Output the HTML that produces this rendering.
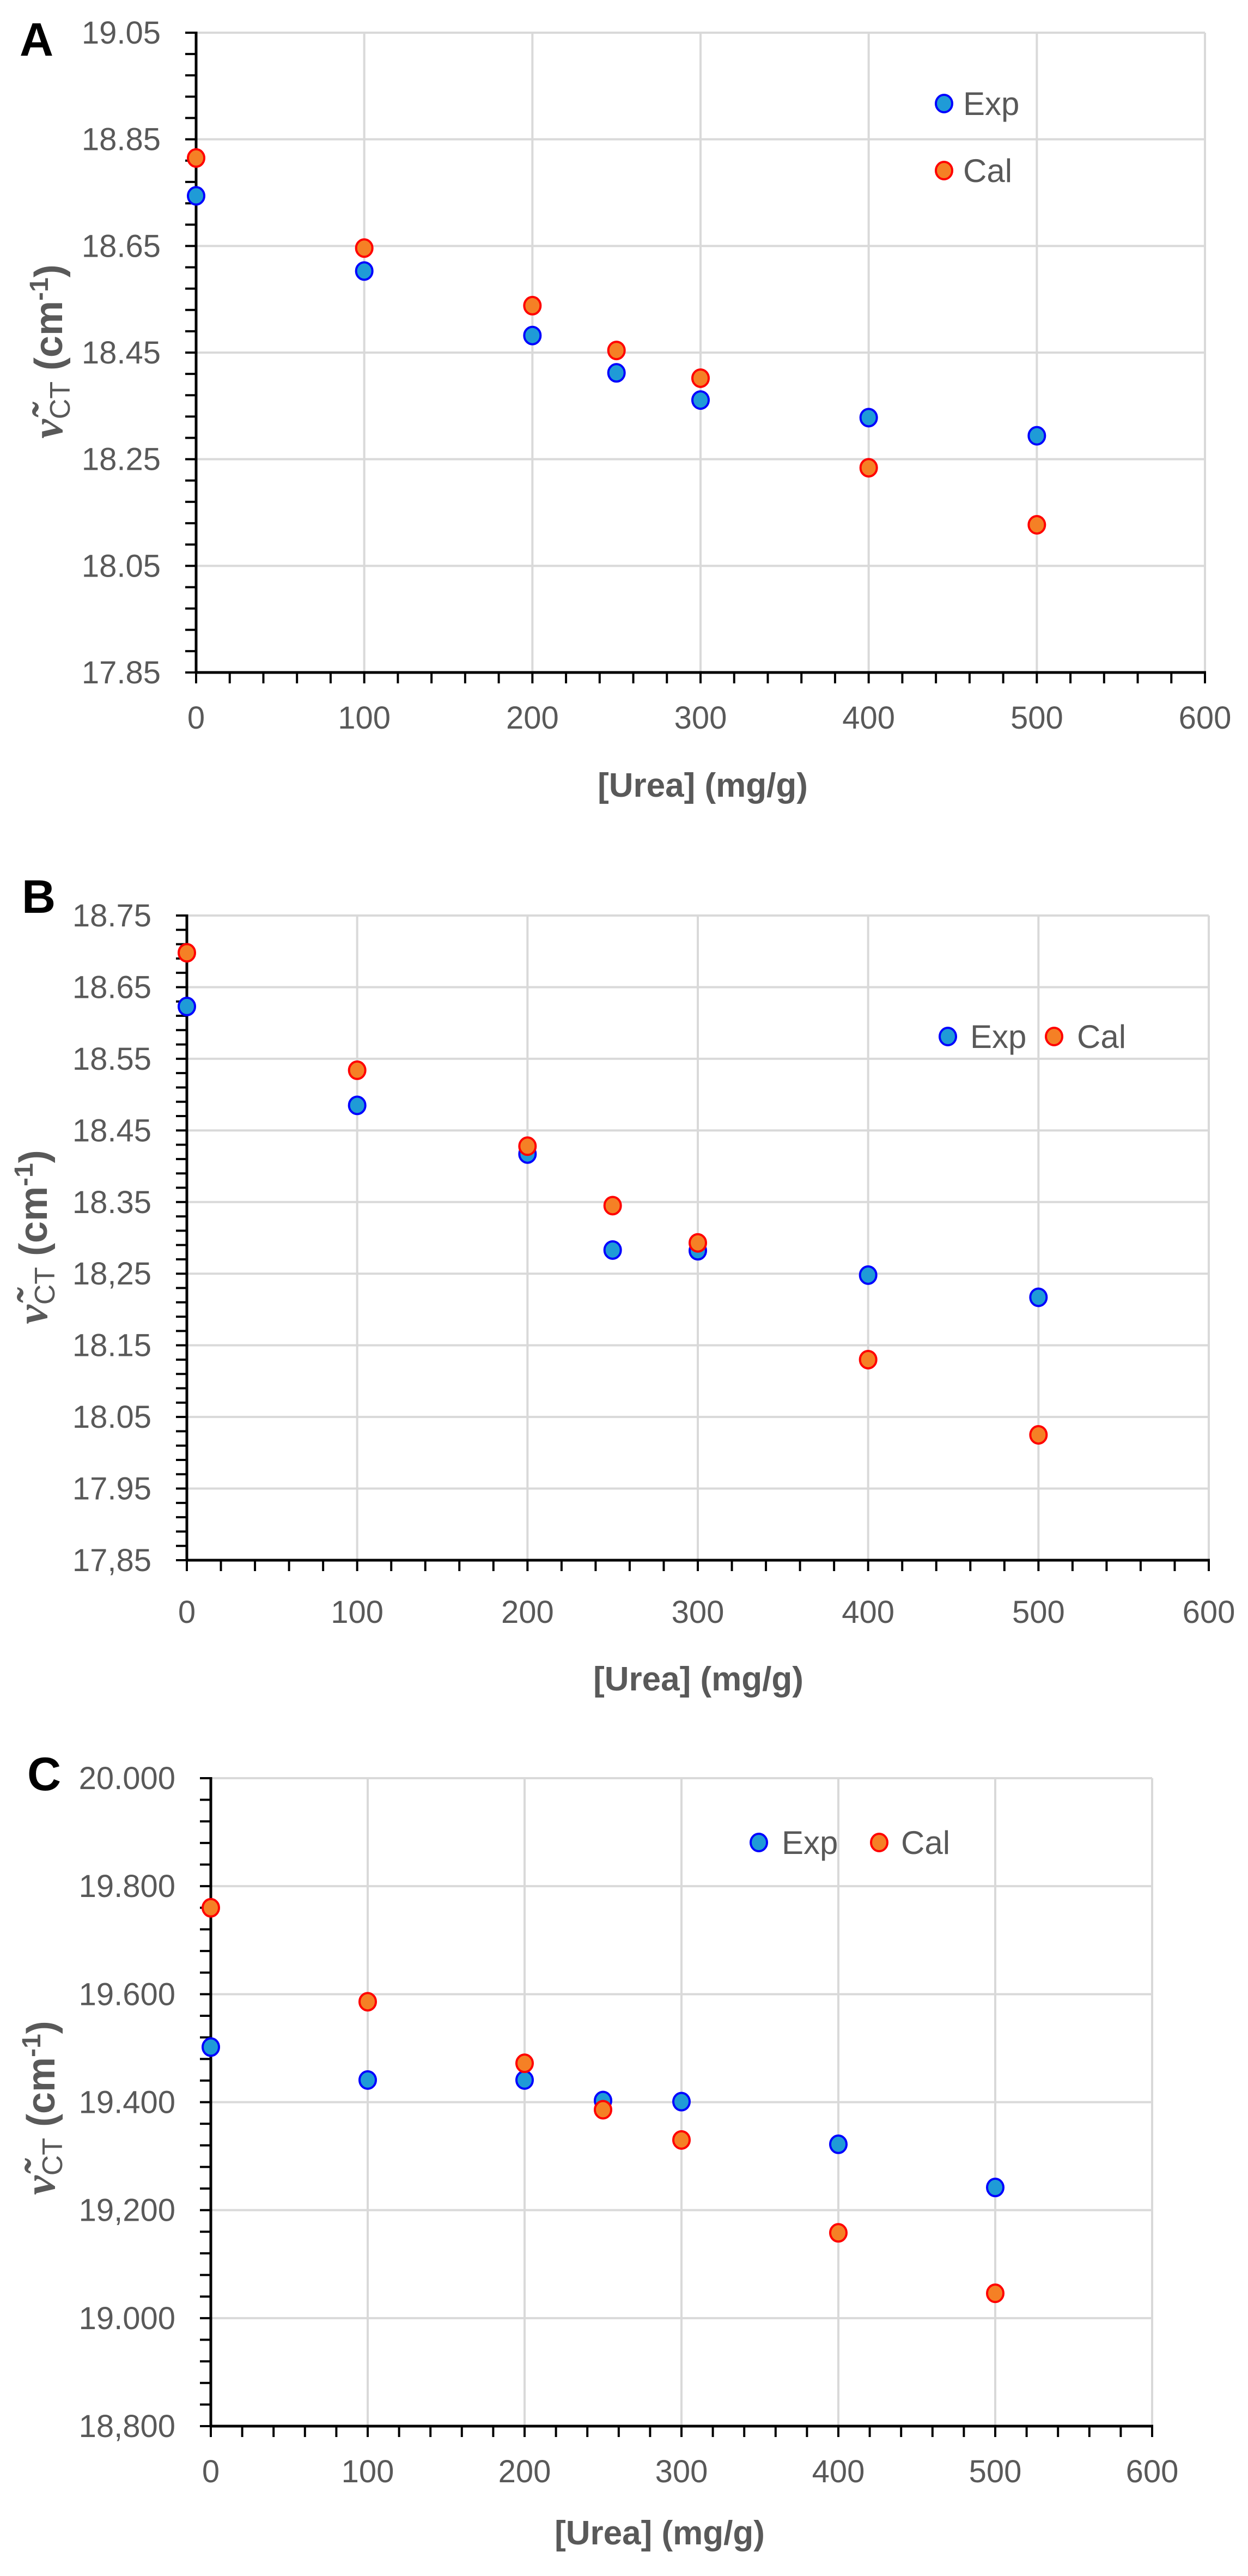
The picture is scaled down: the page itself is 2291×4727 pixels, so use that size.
<!DOCTYPE html>
<html><head><meta charset="utf-8"><style>
html,body{margin:0;padding:0;background:#fff;}
svg{display:block;}
text{font-family:"Liberation Sans",sans-serif;}
</style></head>
<body>
<svg id="fig" width="2291" height="4727" viewBox="0 0 2291 4727" xmlns="http://www.w3.org/2000/svg"></svg>
<script>
// ---- data ----
const xCategories = [0, 100, 200, 250, 300, 400, 500];
const xTickLabels = ["0","100","200","300","400","500","600"];

const expA = [18.744, 18.603, 18.482, 18.412, 18.361, 18.328, 18.294];
const calA = [18.815, 18.646, 18.538, 18.454, 18.402, 18.234, 18.127];
const yTicksA = ["17.85","18.05","18.25","18.45","18.65","18.85","19.05"];

const expB = [18.623, 18.485, 18.417, 18.283, 18.282, 18.248, 18.217];
const calB = [18.698, 18.534, 18.428, 18.345, 18.293, 18.130, 18.025];
const yTicksB = ["17,85","17.95","18.05","18.15","18,25","18.35","18.45","18.55","18.65","18.75"];

const expC = [19.502, 19.441, 19.441, 19.403, 19.401, 19.322, 19.242];
const calC = [19.760, 19.586, 19.472, 19.386, 19.330, 19.158, 19.046];
const yTicksC = ["18,800","19.000","19,200","19.400","19.600","19.800","20.000"];

const svg = document.getElementById('fig');
const NS = "http://www.w3.org/2000/svg";
function mk(tag, attrs, parent) {
  const e = document.createElementNS(NS, tag);
  for (const k in attrs) e.setAttribute(k, attrs[k]);
  (parent || svg).appendChild(e);
  return e;
}

function drawChart(c) {
  const g = mk('g', {});
  
  
  const yMin = parseFloat(c.yTicks[0].replace(',', '.'));
  const yMax = parseFloat(c.yTicks[c.yTicks.length - 1].replace(',', '.'));
  const xs = v => c.left + (v / 600) * (c.right - c.left);
  const ys = v => c.bottom - (v - yMin) / (yMax - yMin) * (c.bottom - c.top);

  c.yTicks.forEach((t, i) => {
    if (i === 0) return;
    const v = parseFloat(t.replace(',', '.'));
    const l = mk('line', {x1: c.left, x2: c.right, y1: ys(v), y2: ys(v), stroke: '#d9d9d9', 'stroke-width': 4}, g);
    
    
  });
  xTickLabels.forEach((t, i) => {
    if (i === 0) return;
    const v = parseFloat(t);
    const l = mk('line', {x1: xs(v), x2: xs(v), y1: c.top, y2: c.bottom, stroke: '#d9d9d9', 'stroke-width': 4}, g);
    
    
  });
  const nMajorY = c.yTicks.length - 1;
  for (let i = 0; i <= nMajorY * 5; i++) {
    const y = c.bottom - i * (c.bottom - c.top) / (nMajorY * 5);
    const l = mk('line', {x1: c.left - 20, x2: c.left, y1: y, y2: y, stroke: '#000', 'stroke-width': 4}, g);
    
    
  }
  for (let i = 0; i <= 30; i++) {
    const x = xs(i * 20);
    const l = mk('line', {x1: x, x2: x, y1: c.bottom, y2: c.bottom + 20, stroke: '#000', 'stroke-width': 4}, g);
    
    
  }
  const ya = mk('line', {x1: c.left, x2: c.left, y1: c.top - 2, y2: c.bottom + 2, stroke: '#000', 'stroke-width': 5}, g);
  
  
  const xa = mk('line', {x1: c.left - 2, x2: c.right + 2, y1: c.bottom, y2: c.bottom, stroke: '#000', 'stroke-width': 5}, g);
  
  

  c.yTicks.forEach(t => {
    const v = parseFloat(t.replace(',', '.'));
    const tx = mk('text', {x: c.left - 65, y: ys(v) + 20, 'text-anchor': 'end', 'font-size': 58, fill: '#595959'}, g);
    tx.textContent = t;
    
    
  });
  xTickLabels.forEach(t => {
    const tx = mk('text', {x: xs(parseFloat(t)), y: c.xLabelY + 20, 'text-anchor': 'middle', 'font-size': 58, fill: '#595959'}, g);
    tx.textContent = t;
    
    
  });
  const xt = mk('text', {x: c.xTitleX, y: c.xTitleY + 22, 'text-anchor': 'middle', 'font-size': 62, 'font-weight': 'bold', fill: '#595959'}, g);
  xt.textContent = '[Urea] (mg/g)';
  
  

  const yt = mk('text', {x: 0, y: 0, 'text-anchor': 'middle', 'font-size': 72, 'font-weight': 'bold', fill: '#595959',
    transform: 'translate(' + (c.yTitleX + 24) + ',' + c.yTitleY + ') rotate(-90)'}, g);
  
  
  const t1 = mk('tspan', {'font-family': '"Liberation Serif",serif', 'font-style': 'italic', 'font-size': 80}, yt); t1.textContent = 'ν̃';
  const t2 = mk('tspan', {'font-size': 52, 'font-weight': 'normal', dy: 14}, yt); t2.textContent = 'CT';
  const t3 = mk('tspan', {dy: -14}, yt); t3.textContent = '  (cm';
  const t4 = mk('tspan', {'font-size': 48, dy: -26}, yt); t4.textContent = '-1';
  const t5 = mk('tspan', {dy: 26}, yt); t5.textContent = ')';

  const pl = mk('text', {x: c.labelX, y: c.labelY + 30, 'text-anchor': 'middle', 'font-size': 86, 'font-weight': 'bold', fill: '#000'}, g);
  pl.textContent = c.id;
  
  

  function series(vals, fill, stroke, name) {
    vals.forEach((v, i) => {
      const p = mk('ellipse', {cx: xs(xCategories[i]), cy: ys(v), rx: 15, ry: 16, fill: fill, stroke: stroke, 'stroke-width': 4}, g);
      
      
    });
  }
  series(c.exp, '#1f9bd7', '#0000ff', 'exp');
  series(c.cal, '#f58025', '#ff0000', 'cal');

  function legend(lx, ly, tx, label, fill, stroke, name) {
    const m = mk('ellipse', {cx: lx, cy: ly, rx: 15, ry: 16, fill: fill, stroke: stroke, 'stroke-width': 4}, g);
    
    
    const t = mk('text', {x: tx, y: ly + 21, 'font-size': 60, fill: '#595959'}, g);
    t.textContent = label;
    
    
  }
  legend(c.legExp[0], c.legExp[1], c.legExp[2], 'Exp', '#1f9bd7', '#0000ff', 'exp');
  legend(c.legCal[0], c.legCal[1], c.legCal[2], 'Cal', '#f58025', '#ff0000', 'cal');
}

drawChart({id: 'A', left: 360, right: 2212, top: 60, bottom: 1234, yTicks: yTicksA, exp: expA, cal: calA,
  xLabelY: 1317, xTitleX: 1290, xTitleY: 1440, yTitleX: 90, yTitleY: 645, labelX: 67, labelY: 72,
  legExp: [1733, 190, 1768], legCal: [1733, 313, 1768]});
drawChart({id: 'B', left: 343, right: 2219, top: 1680, bottom: 2863, yTicks: yTicksB, exp: expB, cal: calB,
  xLabelY: 2958, xTitleX: 1282, xTitleY: 3080, yTitleX: 62, yTitleY: 2270, labelX: 71, labelY: 1645,
  legExp: [1740, 1902, 1781], legCal: [1935, 1902, 1977]});
drawChart({id: 'C', left: 387, right: 2115, top: 3263, bottom: 4452, yTicks: yTicksC, exp: expC, cal: calC,
  xLabelY: 4535, xTitleX: 1211, xTitleY: 4647, yTitleX: 76, yTitleY: 3868, labelX: 81, labelY: 3255,
  legExp: [1393, 3381, 1435], legCal: [1614, 3381, 1654]});
</script>
</body></html>
